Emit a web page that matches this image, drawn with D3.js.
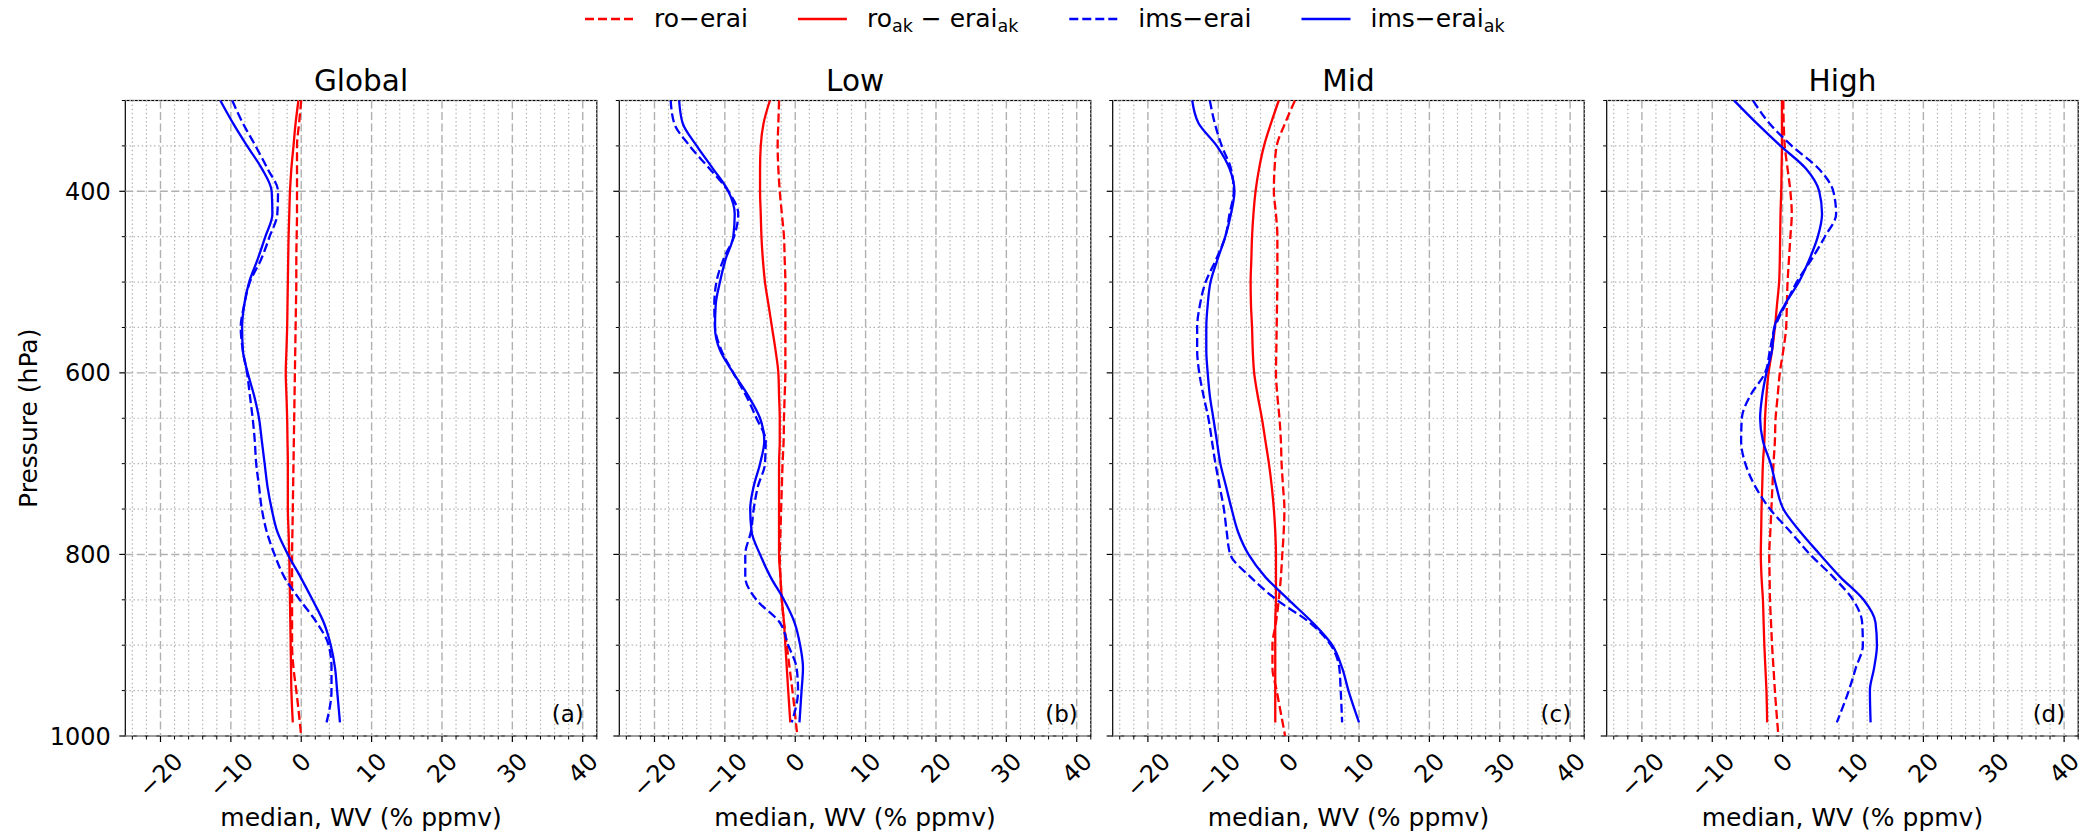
<!DOCTYPE html>
<html>
<head>
<meta charset="utf-8">
<script src="https://cdn.jsdelivr.net/npm/d3@7"></script>
<style>
  body { margin: 0; background: #fff; }
  svg { font-family: "DejaVu Sans", sans-serif; }
</style>
</head>
<body>
<svg id="chart" width="2090" height="836"></svg>
<script>
// panels and axis ticks
var regions = ["Global", "Low", "Mid", "High"];
var tags = ["(a)", "(b)", "(c)", "(d)"];
var xTicks = [-20, -10, 0, 10, 20, 30, 40];
var yTicks = [400, 600, 800, 1000];

// pressure levels (hPa); ro-erai reaches the surface
var levels   = [300,325,350,375,400,425,450,475,500,525,550,575,600,625,650,675,700,725,750,775,800,825,850,875,900,925,950,985];
var levelsRo = [300,325,350,375,400,425,450,475,500,525,550,575,600,625,650,675,700,725,750,775,800,825,850,875,900,925,950,1000];

// median WV differences (%), one row per region: Global, Low, Mid, High
var roErai = [
  [0.0,-0.3,-0.6,-0.6,-0.6,-0.6,-0.65,-0.7,-0.7,-0.75,-0.8,-0.85,-0.9,-0.95,-1.0,-1.05,-1.1,-1.15,-1.2,-1.25,-1.3,-1.3,-1.3,-1.3,-1.3,-1.1,-0.7,0.0],
  [-2.3,-2.4,-2.5,-2.4,-2.2,-1.9,-1.6,-1.5,-1.4,-1.4,-1.4,-1.4,-1.4,-1.5,-1.6,-1.65,-1.8,-1.9,-2.0,-2.1,-2.2,-2.1,-1.9,-1.6,-1.2,-0.8,-0.4,0.3],
  [0.9,-0.5,-1.7,-2.0,-2.1,-1.8,-1.6,-1.6,-1.6,-1.65,-1.7,-1.75,-1.8,-1.6,-1.3,-1.1,-1.0,-0.8,-0.6,-0.7,-0.9,-1.1,-1.4,-1.8,-2.3,-2.3,-1.7,-0.5],
  [0.1,0.15,0.3,0.7,1.1,1.3,1.1,0.9,0.7,0.6,0.5,0.1,-0.4,-0.7,-1.0,-1.1,-1.3,-1.45,-1.6,-1.75,-1.9,-1.85,-1.8,-1.65,-1.5,-1.3,-1.1,-0.6]
];
var roAkEraiAk = [
  [-0.4,-0.8,-1.1,-1.4,-1.6,-1.7,-1.8,-1.85,-1.9,-1.95,-2.0,-2.1,-2.2,-2.1,-2.0,-1.95,-1.9,-1.9,-1.9,-1.8,-1.7,-1.65,-1.6,-1.55,-1.5,-1.45,-1.4,-1.2],
  [-3.6,-4.5,-4.9,-5.0,-5.0,-4.9,-4.8,-4.6,-4.3,-3.8,-3.3,-2.8,-2.4,-2.3,-2.2,-2.2,-2.3,-2.3,-2.3,-2.3,-2.3,-2.1,-1.9,-1.6,-1.4,-1.2,-1.0,-0.7],
  [-1.4,-2.5,-3.5,-4.2,-4.7,-5.0,-5.2,-5.3,-5.4,-5.35,-5.2,-5.1,-4.9,-4.4,-3.8,-3.3,-2.8,-2.4,-2.1,-1.9,-1.8,-1.8,-1.8,-1.9,-1.9,-1.9,-1.9,-1.9],
  [-0.1,-0.1,-0.1,-0.15,-0.2,-0.3,-0.35,-0.4,-0.5,-0.8,-1.1,-1.5,-2.0,-2.3,-2.5,-2.6,-2.8,-2.9,-3.0,-3.05,-3.1,-3.0,-2.8,-2.7,-2.6,-2.45,-2.3,-2.2]
];
var imsErai = [
  [-9.8,-8.3,-6.5,-4.8,-3.3,-3.4,-4.5,-5.7,-7.3,-8.1,-8.6,-8.3,-7.7,-7.3,-6.9,-6.6,-6.4,-6.0,-5.6,-4.9,-3.8,-2.4,-0.2,2.2,3.9,4.3,4.3,3.6],
  [-17.7,-17.2,-15.0,-12.2,-9.5,-8.1,-8.7,-10.2,-11.2,-11.5,-11.4,-10.5,-8.8,-7.0,-5.5,-4.2,-4.3,-5.3,-5.9,-6.3,-7.1,-7.1,-5.5,-2.2,-1.0,0.2,0.4,-0.5],
  [-11.2,-10.5,-9.5,-8.2,-7.8,-8.4,-9.0,-10.3,-11.8,-12.6,-13.0,-13.0,-12.7,-12.1,-11.4,-10.9,-10.4,-9.8,-9.2,-8.8,-8.3,-5.4,-1.7,3.0,6.0,7.2,7.4,7.6],
  [-4.2,-1.9,1.3,5.1,7.2,7.6,6.0,4.1,2.0,0.4,-1.1,-1.8,-2.5,-4.6,-5.8,-5.9,-5.3,-3.9,-1.8,1.1,3.9,7.2,10.0,11.3,11.4,10.4,9.4,7.7]
];
var imsEraiAk = [
  [-11.5,-9.7,-7.7,-5.6,-4.2,-4.1,-5.1,-6.2,-7.4,-8.1,-8.4,-8.3,-7.6,-6.7,-6.0,-5.6,-5.2,-4.8,-4.2,-3.4,-1.9,-0.1,1.6,3.2,4.2,4.8,5.1,5.5],
  [-16.5,-16.0,-14.0,-11.7,-9.5,-8.6,-8.8,-9.9,-10.7,-11.3,-11.4,-10.7,-8.8,-6.7,-5.0,-4.4,-5.0,-5.9,-6.4,-6.2,-5.0,-3.5,-1.6,-0.1,0.7,1.1,0.9,0.6],
  [-13.7,-12.8,-10.2,-8.4,-7.7,-8.2,-9.0,-10.1,-11.1,-11.5,-11.7,-11.7,-11.5,-11.2,-10.7,-10.2,-9.7,-8.9,-8.1,-7.2,-5.7,-3.3,0.0,3.4,6.2,7.6,8.5,10.0],
  [-6.9,-3.7,-0.3,3.3,5.2,5.6,5.0,3.8,2.3,0.3,-1.2,-1.5,-2.3,-2.9,-3.2,-2.8,-1.7,-0.9,0.1,2.5,5.3,8.2,11.5,13.2,13.4,13.0,12.4,12.5]
];

// legend labels, pieces with subscripts
var legendLabels = [
  [["ro−erai", false]],
  [["ro", false], ["ak", true], [" − erai", false], ["ak", true]],
  [["ims−erai", false]],
  [["ims−erai", false], ["ak", true]]
];

var series = [
  { values: roErai,     lev: levelsRo, color: "#ff0000", dash: "9,4" },
  { values: roAkEraiAk, lev: levels,   color: "#ff0000", dash: null },
  { values: imsErai,    lev: levels,   color: "#0000ff", dash: "9,4" },
  { values: imsEraiAk,  lev: levels,   color: "#0000ff", dash: null }
];

var svg = d3.select("#chart");
var panelLeft = [125.3, 619.3, 1112.7, 1606.7],
  panelW = 471.5,
  plotTop = 100.5,
  plotBottom = 736;

var y = d3.scaleLinear().domain([300, 1000]).range([plotTop, plotBottom]);

var xMinor = d3.range(-24, 43, 2).filter(function(v) { return v % 10 !== 0; });
var yMinor = d3.range(300, 1000, 50).filter(function(v) { return v % 200 !== 0; });

regions.forEach(function(name, i) {
  var x = d3.scaleLinear().domain([-25, 42]).range([panelLeft[i], panelLeft[i] + panelW]);
  var g = svg.append("g");

  // frame
  g.append("rect")
    .attr("x", x(-25)).attr("y", plotTop)
    .attr("width", panelW).attr("height", plotBottom - plotTop)
    .attr("fill", "none").attr("stroke", "#000").attr("stroke-width", 1.2);

  // minor grid (dotted)
  g.selectAll(".mgx").data(xMinor).enter().append("line")
    .attr("x1", x).attr("x2", x).attr("y1", plotTop).attr("y2", plotBottom)
    .attr("stroke", "#b5b5b5").attr("stroke-width", 1.2).attr("stroke-dasharray", "1.5,2.6");
  g.selectAll(".mgy").data(yMinor).enter().append("line")
    .attr("x1", x(-25)).attr("x2", x(42)).attr("y1", y).attr("y2", y)
    .attr("stroke", "#b5b5b5").attr("stroke-width", 1.2).attr("stroke-dasharray", "1.5,2.6");

  // major grid (dashed)
  g.selectAll(".gx").data(xTicks).enter().append("line")
    .attr("x1", x).attr("x2", x).attr("y1", plotTop).attr("y2", plotBottom)
    .attr("stroke", "#b0b0b0").attr("stroke-width", 1.4).attr("stroke-dasharray", "8,3.5");
  g.selectAll(".gy").data(yTicks).enter().append("line")
    .attr("x1", x(-25)).attr("x2", x(42)).attr("y1", y).attr("y2", y)
    .attr("stroke", "#b0b0b0").attr("stroke-width", 1.4).attr("stroke-dasharray", "8,3.5");

  // ticks
  g.selectAll(".tx").data(xTicks).enter().append("line")
    .attr("x1", x).attr("x2", x).attr("y1", plotBottom).attr("y2", plotBottom + 6)
    .attr("stroke", "#000").attr("stroke-width", 1.2);
  g.selectAll(".tmx").data(xMinor).enter().append("line")
    .attr("x1", x).attr("x2", x).attr("y1", plotBottom).attr("y2", plotBottom + 3.5)
    .attr("stroke", "#000").attr("stroke-width", 1);
  g.selectAll(".ty").data(yTicks).enter().append("line")
    .attr("x1", x(-25) - 6).attr("x2", x(-25)).attr("y1", y).attr("y2", y)
    .attr("stroke", "#000").attr("stroke-width", 1.2);
  g.selectAll(".tmy").data(yMinor).enter().append("line")
    .attr("x1", x(-25) - 3.5).attr("x2", x(-25)).attr("y1", y).attr("y2", y)
    .attr("stroke", "#000").attr("stroke-width", 1);

  // x tick labels, rotated 45
  g.selectAll(".lx").data(xTicks).enter().append("text")
    .attr("font-size", 24)
    .attr("text-anchor", "middle")
    .attr("dy", "0.35em")
    .text(function(d) { return d < 0 ? "−" + Math.abs(d) : d; })
    .each(function(d) {
      var w = this.getComputedTextLength(), h = 28;
      var cy = 747 + (w + h) / (2 * Math.SQRT2);
      d3.select(this).attr("transform", "translate(" + x(d) + "," + cy + ") rotate(-45)");
    });

  if (i === 0) {
    g.selectAll(".ly").data(yTicks).enter().append("text")
      .attr("x", x(-25) - 14.5).attr("y", y)
      .attr("dy", "0.36em").attr("text-anchor", "end")
      .attr("font-size", 24)
      .text(function(d) { return d; });
    svg.append("text")
      .attr("transform", "translate(37," + (plotTop + plotBottom) / 2 + ") rotate(-90)")
      .attr("text-anchor", "middle").attr("font-size", 25)
      .text("Pressure (hPa)");
  }

  // titles and labels
  g.append("text")
    .attr("x", x(-25) + panelW / 2).attr("y", 91)
    .attr("text-anchor", "middle").attr("font-size", 29.5)
    .text(name);
  g.append("text")
    .attr("x", x(-25) + panelW / 2).attr("y", 826)
    .attr("text-anchor", "middle").attr("font-size", 25)
    .text("median, WV (% ppmv)");
  g.append("text")
    .attr("x", x(42) - 13).attr("y", 722)
    .attr("text-anchor", "end").attr("font-size", 23)
    .text(tags[i]);

  // profiles
  var line = d3.line()
    .x(function(d) { return x(d[1]); })
    .y(function(d) { return y(d[0]); })
    .curve(d3.curveMonotoneY);

  series.forEach(function(s) {
    g.append("path")
      .datum(d3.zip(s.lev, s.values[i]))
      .attr("d", line)
      .attr("fill", "none")
      .attr("stroke", s.color)
      .attr("stroke-width", 2.3)
      .attr("stroke-dasharray", s.dash);
  });
});

// legend
var lg = svg.append("g");
var lx = 585, ly = 19;
series.forEach(function(s, k) {
  lg.append("line")
    .attr("x1", lx).attr("x2", lx + 49).attr("y1", ly).attr("y2", ly)
    .attr("stroke", s.color).attr("stroke-width", 2.3)
    .attr("stroke-dasharray", s.dash);
  var t = lg.append("text")
    .attr("x", lx + 69).attr("y", ly + 8)
    .attr("font-size", 25);
  legendLabels[k].forEach(function(p) {
    var sp = t.append("tspan").text(p[0]);
    if (p[1]) sp.attr("font-size", 17.5).attr("dy", 5);
    else sp.attr("dy", t.selectAll("tspan").size() > 1 ? -5 : 0);
  });
  var w = t.node().getBBox().width;
  lx = lx + 69 + w + 50;
});
</script>
</body>
</html>
